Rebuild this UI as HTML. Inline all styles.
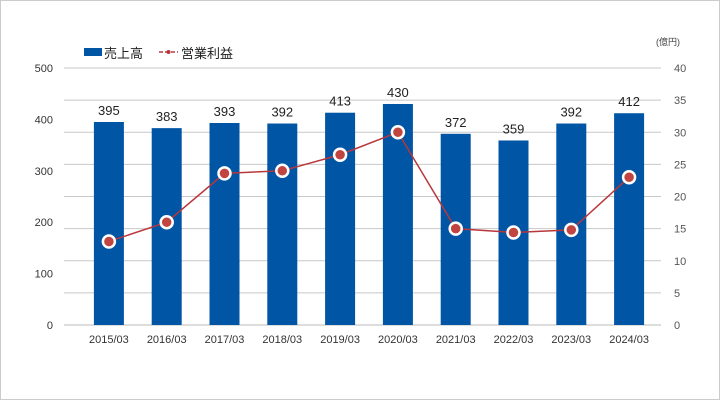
<!DOCTYPE html>
<html><head><meta charset="utf-8"><style>
body{margin:0;background:#fff}
#wrap{position:relative;width:718px;height:398px;border:1px solid #ccc;background:#fff;font-family:"Liberation Sans","Noto Sans CJK JP",sans-serif}
svg text{font-family:"Liberation Sans","Noto Sans CJK JP",sans-serif}
</style></head><body>
<div id="wrap">
<svg id="c" width="718" height="398"></svg>
</div>
<script>
const categories=["2015/03","2016/03","2017/03","2018/03","2019/03","2020/03","2021/03","2022/03","2023/03","2024/03"];
const sales=[395,383,393,392,413,430,372,359,392,412];
const profit=[13,16,23.6,24,26.5,30,15,14.4,14.8,23];
const leftTicks=[0,100,200,300,400,500];
const rightTicks=[0,5,10,15,20,25,30,35,40];
const NS="http://www.w3.org/2000/svg";
const svg=document.getElementById('c');
const top0=67,bot=324,x0=79,x1=657;
const yL=v=>bot-(v/500)*(bot-top0);
const yR=v=>bot-(v/40)*(bot-top0);
const step=(x1-x0)/categories.length;
const xC=i=>x0+step*(i+0.5);
function el(t,a,txt){const e=document.createElementNS(NS,t);for(const k in a)e.setAttribute(k,a[k]);if(txt!==undefined)e.textContent=txt;svg.appendChild(e);return e;}
rightTicks.forEach(v=>{
 const g=el('line',{x1:63,x2:660,y1:yR(v),y2:yR(v),stroke:v===0?'#bbb':'#c8c8c8','stroke-width':1});
 
 
 const t=el('text',{x:673,y:yR(v)+4,'font-size':11,fill:'#555'},v);
 
 
});
leftTicks.forEach(v=>{
 const t=el('text',{x:52,y:yL(v)+4,'font-size':11,fill:'#333','text-anchor':'end'},v);
 
 
});
categories.forEach((c,i)=>{
 const b=el('rect',{x:xC(i)-15,y:yL(sales[i]),width:30,height:bot-yL(sales[i]),fill:'#0055a5'});
 
 
 const l=el('text',{x:xC(i),y:yL(sales[i])-7,'font-size':13,fill:'#222','text-anchor':'middle'},sales[i]);
 
 
 const x=el('text',{x:xC(i),y:342,'font-size':11,fill:'#333','text-anchor':'middle'},c);
 
 
});
const pl=el('polyline',{points:profit.map((v,i)=>xC(i)+','+yR(v)).join(' '),fill:'none',stroke:'#b8373a','stroke-width':1.5});


profit.forEach((v,i)=>{
 const p=el('circle',{cx:xC(i),cy:yR(v),r:6,fill:'#c0443f',stroke:'#fff','stroke-width':2.5});
 
 
});
const lg1=el('rect',{x:83,y:47,width:18,height:8,fill:'#0055a5'});


const lt1=el('text',{x:103,y:57,'font-size':13,fill:'#222'},'売上高');


const lg2=el('line',{x1:158,x2:177,y1:51,y2:51,stroke:'#b8373a','stroke-width':1.5,'stroke-dasharray':'4,2'});


const lg3=el('circle',{cx:167.5,cy:51,r:2,fill:'#b8373a'});


const lt2=el('text',{x:180,y:57,'font-size':13,fill:'#222'},'営業利益');


const u=el('text',{x:655,y:44,'font-size':9,fill:'#444'},'(億円)');


</script>
</body></html>
